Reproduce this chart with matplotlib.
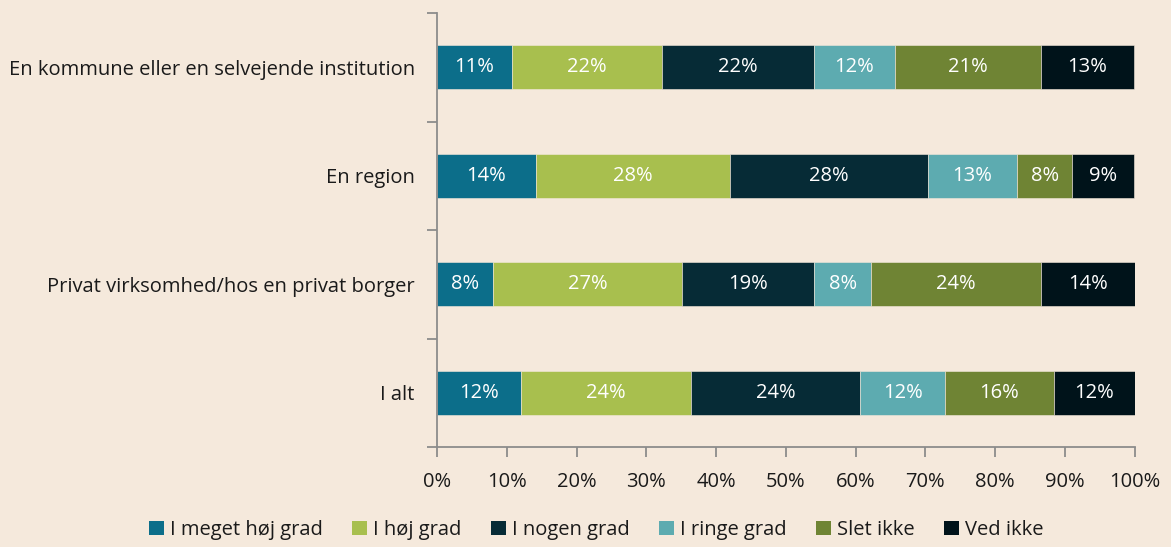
import matplotlib
matplotlib.use("Agg")
import matplotlib.pyplot as plt
import numpy as np

categories = ["En kommune eller en selvejende institution", "En region",
              "Privat virksomhed/hos en privat borger", "I alt"]
series = ["I meget høj grad", "I høj grad", "I nogen grad", "I ringe grad", "Slet ikke", "Ved ikke"]
meget_hoej = [10.7, 14.15, 8.03, 12.04]
hoej = [21.6, 27.9, 27.09, 24.37]
nogen = [21.7, 28.28, 18.96, 24.27]
ringe = [11.65, 12.86, 8.13, 12.1]
slet_ikke = [20.88, 7.88, 24.32, 15.67]
ved_ikke = [13.43, 8.89, 13.52, 11.57]
colors = ["#0C6E8A", "#A8BF4E", "#062B36", "#5DABB0", "#6F8434", "#00131A"]
xticks = [0, 10, 20, 30, 40, 50, 60, 70, 80, 90, 100]

values = [meget_hoej, hoej, nogen, ringe, slet_ikke, ved_ikke]

plt.rcParams['font.family'] = ['Open Sans', 'DejaVu Sans']
bg = "#F5E9DC"
fs = 14.5
fig = plt.figure(figsize=(11.71, 5.47), dpi=100, facecolor=bg)
ax = fig.add_axes([437 / 1171, 1 - 447 / 547, (1134.7 - 437) / 1171, (447 - 13) / 547])
ax.set_facecolor(bg)

y = np.arange(len(categories))
left = np.zeros(len(categories))
for name, vals, col in zip(series, values, colors):
    vals = np.array(vals)
    ax.barh(y, vals, left=left, height=0.405, color=col, label=name,
            edgecolor=bg, linewidth=0.4)
    for yi, l, v in zip(y, left, vals):
        ax.text(l + v / 2, yi, f"{round(v):d}%", ha="center", va="center",
                color="white", fontsize=fs)
    left += vals

ax.set_xlim(0, 100)
ax.set_ylim(3.5, -0.5)
ax.set_xticks(xticks)
ax.set_xticklabels([f"{t}%" for t in xticks])
ax.set_yticks(np.arange(-0.5, 4, 1))
ax.set_yticklabels([])
ax.set_yticks(y, minor=True)
ax.set_yticklabels(categories, minor=True)
ax.tick_params(axis="y", which="major", length=7, color="#8C8C8C", width=1.3)
ax.tick_params(axis="y", which="minor", length=0, pad=16, labelsize=fs, labelcolor="#1A1A1A")
ax.tick_params(axis="x", length=7, color="#8C8C8C", width=1.3, pad=11, labelsize=fs,
               labelcolor="#1A1A1A")
for s in ["top", "right"]:
    ax.spines[s].set_visible(False)
for s in ["left", "bottom"]:
    ax.spines[s].set_color("#8C8C8C")
    ax.spines[s].set_linewidth(1.3)

leg = fig.legend(loc="center", bbox_to_anchor=(596 / 1171, 1 - 530 / 547), ncol=6,
                 frameon=False, fontsize=fs, handlelength=0.75, handleheight=0.75,
                 handletextpad=0.3, columnspacing=1.45, labelcolor="#1A1A1A")
for h in leg.legend_handles:
    h.set_edgecolor("none")

fig.savefig("out.png", dpi=100, facecolor=bg)
